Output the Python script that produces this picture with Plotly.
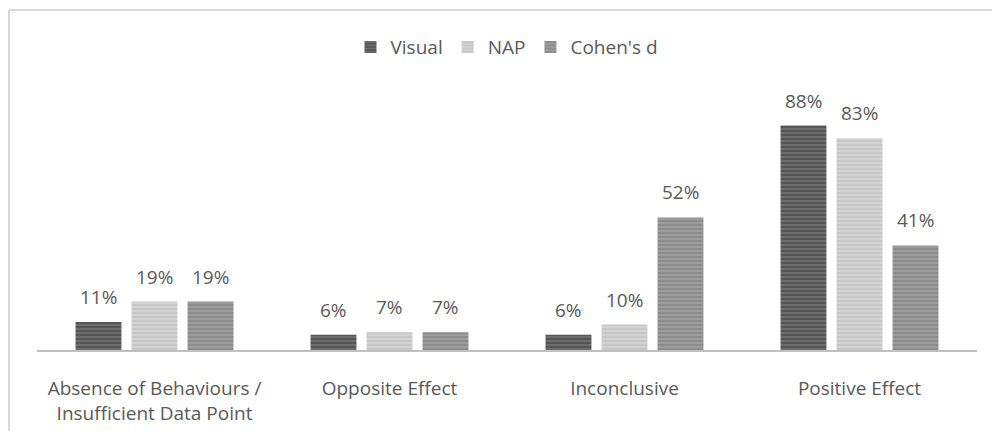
import plotly.graph_objects as go

categories = ["Absence of Behaviours /<br>Insufficient Data Point", "Opposite Effect", "Inconclusive", "Positive Effect"]
series_names = ["Visual", "NAP", "Cohen's d"]
visual = [0.11, 0.06, 0.06, 0.88]
nap = [0.19, 0.07, 0.10, 0.83]
cohens_d = [0.19, 0.07, 0.52, 0.41]

series_values = [visual, nap, cohens_d]
bg_colors = ["#555555", "#d2d2d2", "#9c9c9c"]
fg_colors = ["#858585", "#b9b9b9", "#7c7c7c"]

FONT = "Open Sans"
TXT = "#595959"
BARGAP = 0.285
SLOT = (1 - BARGAP) / len(series_names)

fig = go.Figure()
for k, (name, vals, bg, fg) in enumerate(zip(series_names, series_values, bg_colors, fg_colors)):
    fig.add_trace(go.Bar(
        name=name, x=categories, y=vals,
        marker=dict(color=bg, line=dict(width=0),
                    pattern=dict(shape="-", fgcolor=fg, bgcolor=bg, size=4, solidity=0.5, fillmode="overlay")),
        hovertemplate="%{y:.0%}",
    ))
    off = (k - (len(series_names) - 1) / 2) * SLOT
    for i, v in enumerate(vals):
        fig.add_annotation(x=i + off, y=v, xref="x", yref="y", text=f"{v:.0%}",
                           showarrow=False, yanchor="bottom", xanchor="center", yshift=10,
                           font=dict(size=19, color=TXT, family=FONT))

fig.update_layout(
    width=992, height=431,
    margin=dict(l=37, r=15, t=95, b=81, autoexpand=False),
    paper_bgcolor="white", plot_bgcolor="white",
    barmode="group", bargap=BARGAP, bargroupgap=0.18,
    font=dict(family=FONT, color=TXT, size=19),
    legend=dict(orientation="h", x=0.5, xanchor="center", y=1.188, yanchor="middle",
                font=dict(size=19, color=TXT, family=FONT), itemwidth=30, traceorder="normal"),
    showlegend=True,
)
fig.update_xaxes(showline=True, linecolor="#bfbfbf", linewidth=2, ticks="", showgrid=False,
                 automargin=False,
                 ticklabelstandoff=20, tickfont=dict(size=19, color=TXT, family=FONT))
fig.update_yaxes(range=[0, 1], visible=False, showgrid=False, automargin=False)

# chart border (top and left edges visible in crop)
fig.add_shape(type="line", xref="paper", yref="paper", x0=-0.0298, x1=1.1, y0=1.333, y1=1.333,
              line=dict(color="#d9d9d9", width=2))
fig.add_shape(type="line", xref="paper", yref="paper", x0=-0.0298, x1=-0.0298, y0=1.333, y1=-0.4,
              line=dict(color="#d9d9d9", width=2))

fig.write_html("out.html")
